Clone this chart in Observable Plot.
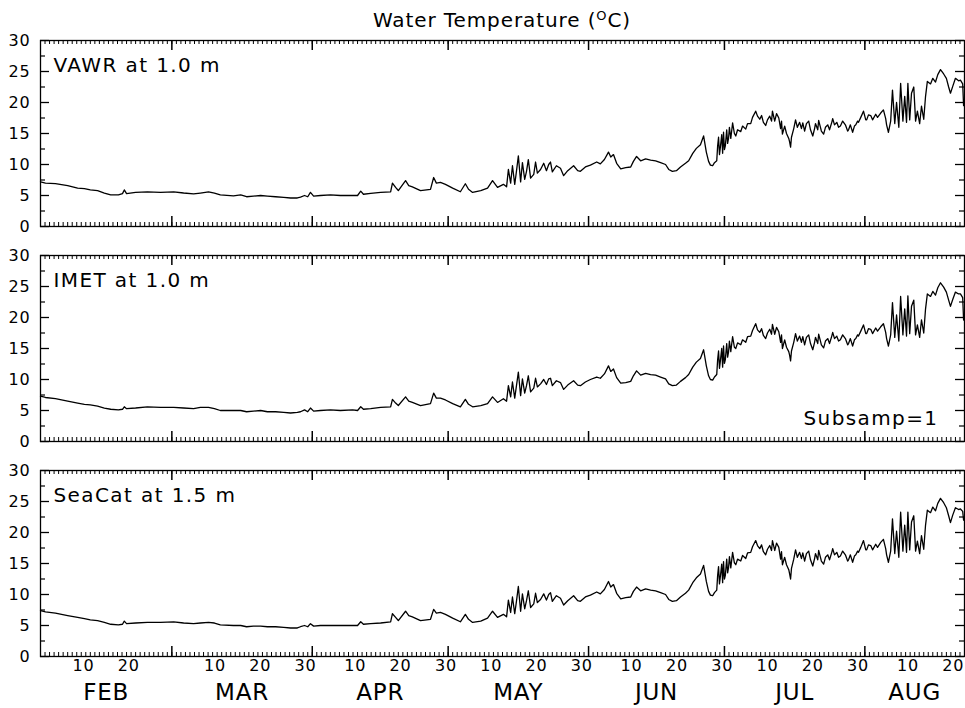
<!DOCTYPE html>
<html><head><meta charset="utf-8">
<script src="https://cdn.jsdelivr.net/npm/d3@7"></script>
<script src="https://cdn.jsdelivr.net/npm/@observablehq/plot@0.6"></script>
<style>
body{margin:0;background:#fff;}
#title{width:965px;height:30px;box-sizing:border-box;padding-top:10px;padding-left:40px;padding-right:1px;text-align:center;font:20px/20px "DejaVu Sans",sans-serif;color:#000;letter-spacing:0.9px;}
#title sup{font-size:13px;vertical-align:7px;line-height:0;}
</style></head><body>
<div id="title">Water Temperature (<sup>O</sup>C)</div>
<div id="chart"></div>
<script>
const panels = ["VAWR", "IMET", "SeaCat"];
const panelLabels = ["VAWR at 1.0 m", "IMET at 1.0 m", "SeaCat at 1.5 m"];
const noteLabel = "Subsamp=1";
const months = ["FEB", "MAR", "APR", "MAY", "JUN", "JUL", "AUG"];
const dayLabels = [10, 20, 30];
const yTicks = [0, 5, 10, 15, 20, 25, 30];
const yMinor = [2.5, 7.5, 12.5, 17.5, 22.5, 27.5];

// days since 1 Feb
const days = [0,1.1,3.3,6.0,8.2,9.7,11.0,12.6,14.1,15.5,
17.2,18.1,18.5,19.0,21.0,23.6,26.5,29.4,31.6,33.8,
35.3,37.1,38.4,39.7,42.6,44.2,45.5,47.0,48.6,50.1,
51.9,53.7,55.2,56.7,57.4,58.3,59.0,59.6,60.3,61.8,
64.0,66.2,68.9,70.0,70.7,71.3,72.9,75.1,77.3,77.7,
78.4,79.0,80.6,81.3,82.1,83.9,86.1,86.8,87.4,88.3,
89.4,91.0,92.7,93.8,94.5,95.4,97.2,98.7,99.8,100.9,
102.2,102.9,103.3,103.8,104.2,104.7,105.1,105.5,106.0,106.4,
106.9,107.3,107.7,108.2,108.9,109.3,109.7,110.4,111.1,111.7,
112.2,112.6,113.0,113.9,114.8,115.5,116.4,117.7,118.6,119.2,
120.3,121.4,122.8,123.6,124.5,125.4,125.9,126.5,127.2,128.1,
129.2,130.3,130.9,131.6,132.5,133.6,134.7,135.8,136.9,138.0,
138.7,139.5,140.4,141.3,142.4,143.1,144.0,144.8,145.7,146.4,
147.0,147.5,147.9,148.4,148.8,149.3,149.5,149.7,149.9,150.1,
150.4,150.6,150.8,151.0,151.2,151.5,151.7,151.9,152.1,152.4,
152.8,153.2,153.5,153.9,154.6,155.0,155.7,156.1,156.8,157.2,
157.9,158.3,158.8,159.2,159.6,160.1,160.5,161.0,161.4,161.6,
162.1,162.5,163.0,163.4,163.6,163.8,164.3,164.7,165.2,165.4,
165.6,165.8,166.3,166.7,167.1,167.6,168.0,168.3,168.7,169.1,
169.6,170.0,170.5,170.9,171.1,171.6,171.8,172.2,172.4,172.9,
173.3,173.8,174.2,174.7,174.9,175.3,175.8,176.2,176.6,177.1,
177.7,178.2,178.4,178.8,179.3,179.7,180.0,180.4,180.6,181.1,
181.7,182.2,182.4,182.8,183.3,183.7,184.4,184.8,185.5,186.1,
186.6,186.8,187.2,187.7,188.1,188.6,189.0,
189.5,189.9,190.4,190.8,191.2,191.5,191.9,192.3,192.8,193.2,
193.6,194.1,194.5,195.0,195.4,195.8,196.5,197.0,197.6,198.1,
198.7,199.4,200.0,200.5,200.9,201.4,202.0,202.7,203.1,203.6,
203.8];

const vawr = [7.2,7.0,6.9,6.6,6.2,6.1,5.9,5.8,5.4,5.1,
5.1,5.3,5.9,5.3,5.5,5.6,5.5,5.6,5.4,5.25,
5.4,5.6,5.4,5.1,4.95,5.1,4.8,4.9,5.0,4.9,
4.8,4.7,4.6,4.6,4.75,5.0,4.8,5.5,4.9,5.0,
5.1,5.0,5.0,5.0,5.7,5.2,5.35,5.5,5.6,7.0,
6.3,5.8,7.4,6.6,6.4,5.8,6.0,7.9,7.0,7.1,
6.8,6.2,5.6,6.9,6.0,5.5,5.8,6.2,7.4,6.3,
6.8,6.4,9.2,7.0,9.8,6.8,9.0,11.4,7.2,10.3,
7.6,8.9,10.8,7.8,8.4,10.4,8.6,9.2,10.2,9.0,
10.0,10.4,8.8,9.8,9.4,8.2,9.0,9.8,9.0,8.9,
9.6,9.9,10.4,10.1,10.8,12.0,11.2,11.6,10.2,9.3,
9.5,9.6,10.5,11.3,10.6,10.9,10.7,10.6,10.3,10.0,
9.2,8.9,9.0,9.6,10.2,10.6,11.8,12.6,13.2,14.6,
12.0,10.5,9.9,9.8,10.3,10.6,13.0,14.4,11.6,12.8,
14.8,11.8,15.2,12.4,13.0,15.6,13.4,14.2,16.0,14.2,
16.7,15.0,14.6,15.6,15.3,16.2,15.7,16.6,16.6,17.6,
18.6,17.8,17.3,17.9,16.8,16.3,17.2,17.8,17.0,18.6,
17.0,18.2,17.5,15.8,17.0,14.9,16.2,15.0,14.2,13.6,
12.8,14.4,15.8,17.2,16.0,16.8,15.8,16.7,15.4,16.6,
17.0,15.6,14.6,15.8,16.6,15.6,17.1,16.0,15.4,14.9,
16.0,16.4,15.6,16.8,17.4,16.4,16.8,16.0,16.2,17.0,
16.4,15.4,15.6,16.4,15.2,16.2,16.4,17.0,16.8,17.6,
18.6,17.2,17.2,18.0,17.9,17.2,18.1,17.6,18.3,18.8,
17.4,16.4,15.2,17.0,22.0,16.6,20.0,
16.0,23.1,17.0,21.0,16.8,23.1,17.2,21.5,22.5,17.0,
18.6,16.6,19.4,17.3,21.0,23.4,23.0,23.9,23.3,24.5,
25.3,24.6,23.9,22.5,21.5,22.6,23.9,23.5,23.6,23.0,
19.5];

const imet = [7.3,7.1,6.9,6.5,6.2,6.0,5.9,5.7,5.4,5.2,
5.1,5.2,5.6,5.3,5.4,5.6,5.5,5.5,5.4,5.3,
5.5,5.5,5.3,5.0,5.0,5.0,4.8,4.9,5.0,4.8,
4.8,4.7,4.6,4.7,4.8,5.1,4.8,5.4,4.9,5.0,
5.1,5.0,5.1,5.0,5.6,5.2,5.3,5.5,5.6,6.8,
6.2,5.8,7.2,6.5,6.3,5.8,6.1,7.8,7.0,7.0,
6.7,6.1,5.6,6.8,6.0,5.6,5.8,6.1,7.2,6.3,
6.9,6.5,9.0,7.2,9.6,7.0,9.1,11.2,7.4,10.1,
7.8,9.0,10.6,8.0,8.6,10.2,8.8,9.3,10.0,9.2,
10.1,10.2,9.0,9.8,9.5,8.4,9.1,9.8,9.1,9.0,
9.6,10.0,10.4,10.2,10.9,12.2,11.3,11.7,10.3,9.4,
9.5,9.7,10.6,11.4,10.7,11.0,10.8,10.7,10.4,10.1,
9.3,9.0,9.1,9.7,10.3,10.8,12.0,12.8,13.4,14.8,
12.2,10.6,10.0,9.9,10.4,10.8,13.2,14.6,11.8,13.0,
15.0,12.0,15.4,12.6,13.2,15.8,13.6,14.4,16.2,14.5,
16.9,15.2,15.0,15.9,15.6,16.4,16.0,16.9,17.0,17.9,
19.0,18.0,17.6,18.2,17.1,16.6,17.5,18.1,17.3,18.9,
17.3,18.4,17.7,16.0,17.2,15.0,16.4,15.2,14.5,13.9,
13.0,14.6,16.0,17.4,16.2,17.0,16.0,16.9,15.6,16.8,
17.2,15.8,14.8,16.0,16.8,15.8,17.3,16.2,15.6,15.1,
16.2,16.6,15.8,17.0,17.6,16.6,17.0,16.2,16.4,17.2,
16.6,15.6,15.8,16.6,15.4,16.4,16.6,17.2,17.0,17.8,
18.8,17.4,17.4,18.2,18.1,17.4,18.3,17.8,18.5,19.0,
17.6,16.6,15.4,17.2,22.4,16.8,20.4,
16.2,23.4,17.2,21.4,17.0,23.5,17.4,21.8,22.8,17.2,
18.8,16.8,19.6,17.5,21.4,23.8,23.4,24.2,23.6,24.8,
25.6,24.9,24.1,22.8,21.8,22.9,24.1,23.8,23.8,23.2,
19.6];

const seacat = [7.4,7.2,7.0,6.6,6.3,6.1,5.9,5.8,5.5,5.2,
5.1,5.2,5.7,5.3,5.4,5.5,5.5,5.6,5.4,5.3,
5.4,5.5,5.4,5.1,5.0,5.0,4.8,4.9,4.9,4.8,
4.8,4.7,4.6,4.6,4.8,5.0,4.8,5.3,4.9,5.0,
5.0,5.0,5.0,5.0,5.6,5.2,5.3,5.4,5.6,6.9,
6.3,5.8,7.3,6.6,6.4,5.8,6.0,7.6,7.0,7.1,
6.8,6.2,5.6,6.8,6.0,5.5,5.7,6.2,7.3,6.3,
6.8,6.4,9.1,7.1,9.6,6.9,9.0,11.3,7.3,10.1,
7.7,9.0,10.6,7.9,8.5,10.2,8.7,9.2,10.1,9.1,
10.0,10.3,8.9,9.8,9.4,8.3,9.0,9.8,9.0,8.9,
9.6,9.9,10.4,10.1,10.8,12.1,11.2,11.6,10.2,9.3,
9.5,9.6,10.5,11.2,10.6,10.9,10.7,10.6,10.3,10.0,
9.2,8.9,9.0,9.6,10.2,10.7,11.9,12.7,13.3,14.7,
12.1,10.5,9.9,9.8,10.3,10.7,13.1,14.5,11.7,12.9,
14.9,11.9,15.3,12.5,13.1,15.7,13.5,14.3,16.1,14.3,
16.8,15.1,14.8,15.7,15.4,16.3,15.8,16.7,16.8,17.7,
18.7,17.9,17.4,18.0,16.9,16.4,17.3,17.9,17.1,18.7,
17.1,18.3,17.6,15.7,16.9,14.8,16.0,14.8,14.0,13.3,
12.5,14.2,15.7,17.2,16.0,16.8,15.8,16.7,15.4,16.6,
17.0,15.6,14.6,15.8,16.6,15.6,17.1,16.0,15.4,14.9,
16.0,16.4,15.6,16.8,17.4,16.4,16.8,16.0,16.2,17.0,
16.4,15.4,15.6,16.4,15.2,16.2,16.4,17.0,16.8,17.6,
18.7,17.2,17.2,18.0,17.9,17.2,18.1,17.6,18.4,18.9,
17.4,16.4,15.2,17.0,22.2,16.6,20.2,
16.0,23.3,17.0,21.2,16.8,23.3,17.2,21.7,22.7,17.0,
18.6,16.6,19.5,17.3,21.2,23.6,23.2,24.1,23.5,24.7,
25.5,24.8,24.0,22.7,21.6,22.8,24.0,23.7,23.8,23.4,
22.0];

const t0 = Date.UTC(2000, 1, 1);
const domainStart = new Date(t0);
const domainEnd = new Date(Date.UTC(2000, 7, 23));
const toDate = d => new Date(t0 + d * 864e5);

const rows = [];
[vawr, imet, seacat].forEach((vals, k) =>
  vals.forEach((v, i) => rows.push({panel: panels[k], date: toDate(days[i]), v})));

const monthStarts = d3.utcMonth.range(domainStart, domainEnd);
const majorTicks = monthStarts.filter(d => +d > +domainStart);
const dailyTicks = d3.utcDay.range(domainStart, domainEnd);
const dayLabelTicks = monthStarts.flatMap(m => dayLabels
  .map(n => new Date(Date.UTC(m.getUTCFullYear(), m.getUTCMonth(), n, 12)))
  .filter(d => d.getUTCMonth() === m.getUTCMonth() && d < domainEnd));
const monthMids = monthStarts.map(m => {
  const s = Math.max(+m, +domainStart);
  const e = Math.min(+d3.utcMonth.offset(m, 1), +domainEnd);
  return new Date((s + e) / 2);
});

const W = 965, H = 678, mL = 40, mR = 1, mT = 10, mB = 52;
const innerW = W - mL - mR;
const pad = 29 / 215;
const bandH = (H - mT - mB) / (3 - pad) * (1 - pad);

const chart = Plot.plot({
  width: W,
  height: H,
  marginTop: mT,
  marginBottom: mB,
  marginLeft: mL,
  marginRight: mR,
  style: {fontFamily: '"DejaVu Sans", sans-serif', fontSize: "16px", color: "#000", background: "#fff", letterSpacing: "0.8px"},
  x: {type: "utc", domain: [domainStart, domainEnd]},
  y: {domain: [0, 30]},
  fy: {domain: panels, axis: null, paddingInner: pad, paddingOuter: 0, round: false},
  marks: [
    // inward ticks
    Plot.ruleX(dailyTicks, {insetTop: bandH - 4, stroke: "#000", strokeWidth: 1}),
    Plot.ruleX(dailyTicks, {insetBottom: bandH - 4, stroke: "#000", strokeWidth: 1}),
    Plot.ruleX(majorTicks, {insetTop: bandH - 10, stroke: "#000", strokeWidth: 1.5}),
    Plot.ruleX(majorTicks, {insetBottom: bandH - 10, stroke: "#000", strokeWidth: 1.5}),
    Plot.ruleY(yTicks, {insetRight: innerW - 9, stroke: "#000", strokeWidth: 1.3}),
    Plot.ruleY(yTicks, {insetLeft: innerW - 9, stroke: "#000", strokeWidth: 1.3}),
    Plot.ruleY(yMinor, {insetRight: innerW - 5, stroke: "#000", strokeWidth: 1.2}),
    Plot.ruleY(yMinor, {insetLeft: innerW - 5, stroke: "#000", strokeWidth: 1.2}),
    Plot.frame({stroke: "#000", strokeWidth: 1.3}),
    Plot.axisY({ticks: yTicks, anchor: "left", tickSize: 0, tickPadding: 10, fontSize: 16, label: null}),
    Plot.axisX({ticks: dayLabelTicks, anchor: "bottom", tickSize: 0, tickPadding: 3, fontSize: 16,
      tickFormat: d => String(d.getUTCDate()), label: null}),
    Plot.axisX({ticks: monthMids, anchor: "bottom", tickSize: 0, tickPadding: 27, fontSize: 23,
      tickFormat: d => months[d.getUTCMonth() - 1], label: null}),
    Plot.lineY(rows, {x: "date", y: "v", fy: "panel", stroke: "#000", strokeWidth: 1.3}),
    Plot.text(panels, {fy: d => d, text: (d, i) => panelLabels[i], frameAnchor: "top-left",
      dx: 13, dy: 17, lineAnchor: "top", textAnchor: "start", fontSize: 20}),
    Plot.text(["IMET"], {fy: d => d, text: () => noteLabel, frameAnchor: "bottom-right",
      dx: -26, dy: -31, lineAnchor: "top", textAnchor: "end", fontSize: 20})
  ]
});
d3.select(chart).selectAll('g[aria-label="text"] text').attr("letter-spacing", "1.4px");
document.getElementById("chart").appendChild(chart);
</script>
</body></html>
